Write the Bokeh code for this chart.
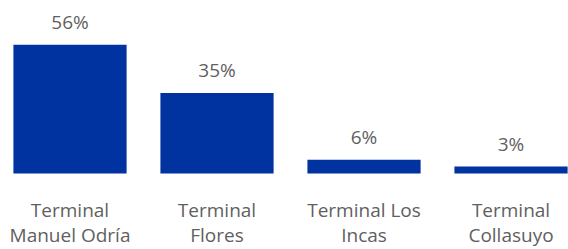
from bokeh.plotting import figure
from bokeh.models import ColumnDataSource, Range1d
from bokeh.core.properties import value
from bokeh.embed import file_html
from bokeh.resources import INLINE

categories = ["Terminal\nManuel Odría", "Terminal\nFlores", "Terminal Los\nIncas", "Terminal\nCollasuyo"]
shares = [56, 35, 6, 3]
value_labels = ["56%", "35%", "6%", "3%"]

xs = list(range(len(categories)))
line1 = [c.split("\n")[0] for c in categories]
line2 = [c.split("\n")[1] for c in categories]

src = ColumnDataSource(dict(x=xs, top=shares, lab=value_labels, l1=line1, l2=line2,
                            zero=[0] * len(xs)))

p = figure(width=568, height=249, output_backend="svg", toolbar_location=None,
           x_range=Range1d(-0.4728, 3.391), y_range=Range1d(-33.04, 75.22),
           min_border=0, outline_line_color=None)
p.xaxis.visible = False
p.yaxis.visible = False
p.xgrid.visible = False
p.ygrid.visible = False
p.background_fill_color = "white"
p.border_fill_color = "white"

p.vbar(x="x", top="top", bottom=0, width=0.77, source=src, fill_color="#0033A0", line_color=None)

grey = "#5f5f5f"
font = value("Open Sans")
p.text(x="x", y="top", text="lab", source=src, text_align="center", text_baseline="alphabetic",
       y_offset=-23, text_font=font, text_font_size="19px", text_color=grey)
p.text(x="x", y="zero", text="l1", source=src, text_align="center", text_baseline="alphabetic",
       y_offset=36, text_font=font, text_font_size="19px", text_color=grey)
p.text(x="x", y="zero", text="l2", source=src, text_align="center", text_baseline="alphabetic",
       y_offset=61, text_font=font, text_font_size="19px", text_color=grey)

open("out.html", "w").write(file_html(p, INLINE))
